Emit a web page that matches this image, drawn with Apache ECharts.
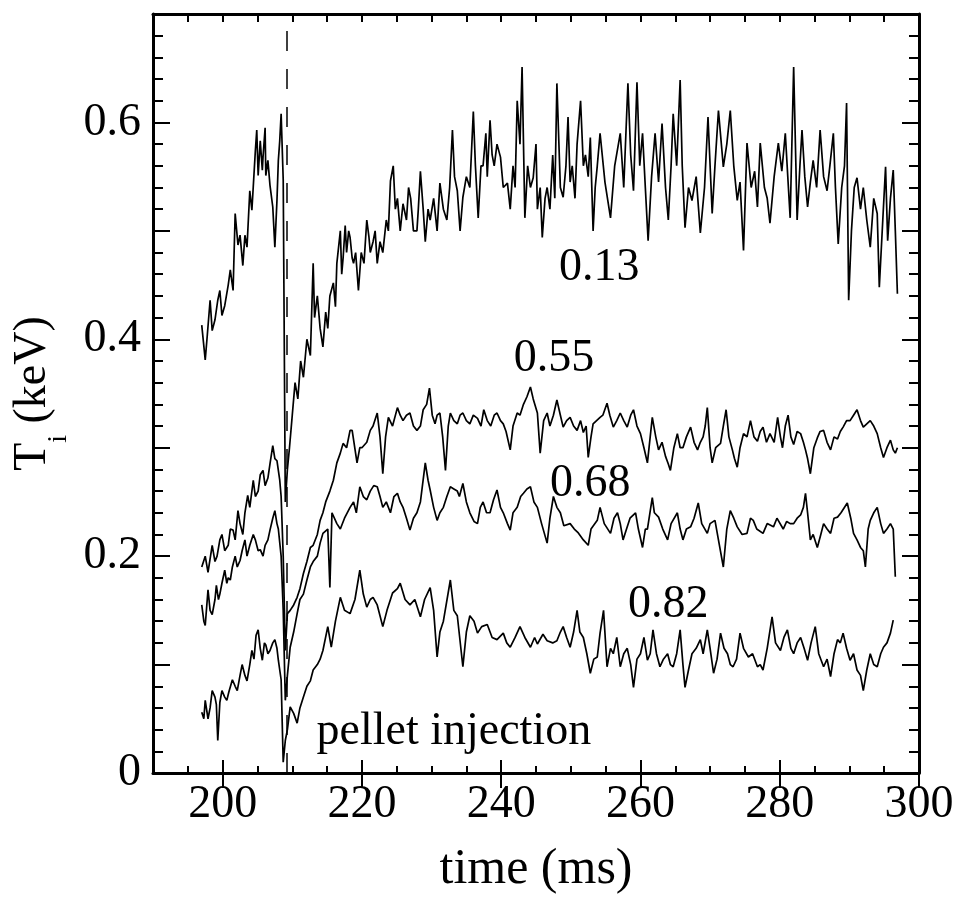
<!DOCTYPE html>
<html>
<head>
<meta charset="utf-8">
<script src="https://cdn.jsdelivr.net/npm/echarts@6/dist/echarts.min.js"></script>
<style>
  html, body { margin: 0; background: #fff; }
  #chart { width: 962px; height: 915px; }
</style>
</head>
<body>
<div id="chart"></div>
<script>
// tick labels for the time axis, one per 5 ms
var xTicks = ['190', '195', '200', '205', '210', '215', '220', '225', '230', '235', '240', '245',
  '250', '255', '260', '265', '270', '275', '280', '285', '290', '295', '300'];

// Ti traces [time ms, keV], labelled by r/a
var ti013 = [
  [197.0, 0.413], [197.5, 0.381], [197.8, 0.404], [198.2, 0.436], [198.5, 0.408], [198.9, 0.418],
  [199.3, 0.436], [199.6, 0.445], [199.9, 0.422], [200.3, 0.431], [200.8, 0.450], [201.1, 0.464],
  [201.5, 0.445], [201.8, 0.516], [202.2, 0.487], [202.5, 0.496], [202.9, 0.468], [203.2, 0.496],
  [203.5, 0.485], [203.9, 0.537], [204.2, 0.519], [204.7, 0.574], [204.9, 0.593], [205.1, 0.551],
  [205.4, 0.583], [205.7, 0.556], [205.8, 0.568], [206.1, 0.595], [206.2, 0.551], [206.5, 0.565],
  [206.8, 0.542], [207.2, 0.522], [207.5, 0.485], [207.8, 0.528], [208.0, 0.565], [208.2, 0.583],
  [208.4, 0.608], [208.7, 0.547], [209.0, 0.250], [209.3, 0.280], [209.6, 0.300], [210.0, 0.330],
  [210.4, 0.360], [210.8, 0.345], [211.2, 0.380], [211.6, 0.365], [212.1, 0.400], [212.6, 0.385],
  [213.0, 0.470], [213.2, 0.420], [213.6, 0.440], [214.0, 0.410], [214.4, 0.393], [214.8, 0.425],
  [215.1, 0.410], [215.4, 0.440], [215.9, 0.452], [216.2, 0.430], [216.4, 0.470], [216.9, 0.500],
  [217.1, 0.460], [217.3, 0.475], [217.6, 0.505], [217.8, 0.480], [218.1, 0.500], [218.3, 0.494],
  [218.6, 0.475], [218.8, 0.470], [219.1, 0.480], [219.5, 0.445], [219.9, 0.480], [220.3, 0.470],
  [220.7, 0.510], [221.0, 0.495], [221.2, 0.480], [221.6, 0.490], [221.9, 0.500], [222.2, 0.470],
  [222.6, 0.490], [223.0, 0.480], [223.5, 0.510], [223.8, 0.500], [224.1, 0.546], [224.5, 0.560],
  [224.8, 0.520], [225.1, 0.530], [225.5, 0.500], [225.9, 0.525], [226.4, 0.510], [226.7, 0.540],
  [227.0, 0.530], [227.4, 0.500], [227.9, 0.500], [228.1, 0.520], [228.4, 0.555], [228.8, 0.520],
  [229.1, 0.490], [229.5, 0.520], [229.8, 0.510], [230.3, 0.530], [230.8, 0.500], [231.2, 0.544],
  [231.7, 0.520], [232.2, 0.510], [232.6, 0.540], [233.0, 0.593], [233.3, 0.550], [233.7, 0.537],
  [234.1, 0.500], [234.5, 0.531], [235.0, 0.550], [235.5, 0.540], [236.0, 0.610], [236.3, 0.560],
  [236.7, 0.512], [237.1, 0.560], [237.4, 0.560], [237.8, 0.590], [238.0, 0.550], [238.4, 0.602],
  [238.7, 0.570], [239.0, 0.560], [239.4, 0.580], [239.9, 0.568], [240.3, 0.540], [240.9, 0.544],
  [241.3, 0.520], [241.7, 0.560], [242.0, 0.540], [242.3, 0.620], [242.7, 0.580], [243.0, 0.651],
  [243.4, 0.512], [243.8, 0.560], [244.2, 0.540], [244.6, 0.549], [245.0, 0.580], [245.2, 0.520],
  [245.6, 0.540], [245.9, 0.494], [246.3, 0.530], [246.6, 0.540], [247.0, 0.520], [247.4, 0.570],
  [247.7, 0.530], [248.0, 0.636], [248.5, 0.540], [248.9, 0.531], [249.3, 0.560], [249.6, 0.605],
  [249.9, 0.545], [250.2, 0.560], [250.6, 0.530], [250.9, 0.580], [251.4, 0.620], [251.8, 0.560],
  [252.1, 0.570], [252.5, 0.550], [252.8, 0.586], [253.2, 0.500], [253.5, 0.540], [253.8, 0.560],
  [254.2, 0.590], [254.9, 0.545], [255.7, 0.512], [256.3, 0.560], [257.1, 0.590], [257.6, 0.540],
  [258.2, 0.636], [258.6, 0.570], [259.0, 0.537], [259.5, 0.637], [259.9, 0.560], [260.3, 0.590],
  [260.7, 0.540], [261.1, 0.491], [261.6, 0.550], [262.1, 0.590], [262.6, 0.545], [263.1, 0.599],
  [263.6, 0.540], [264.0, 0.510], [264.4, 0.560], [264.7, 0.608], [265.2, 0.560], [265.7, 0.639],
  [266.0, 0.560], [266.4, 0.503], [266.9, 0.540], [267.4, 0.528], [268.0, 0.550], [268.6, 0.498],
  [269.2, 0.540], [269.7, 0.605], [270.3, 0.516], [270.7, 0.560], [271.2, 0.611], [271.9, 0.559],
  [272.4, 0.580], [272.9, 0.611], [273.4, 0.560], [273.9, 0.528], [274.3, 0.545], [274.8, 0.482],
  [275.3, 0.581], [275.9, 0.540], [276.4, 0.555], [276.8, 0.522], [277.2, 0.581], [277.8, 0.540],
  [278.2, 0.530], [278.6, 0.507], [279.2, 0.550], [279.8, 0.581], [280.3, 0.555], [280.8, 0.590],
  [281.2, 0.545], [281.5, 0.512], [282.0, 0.651], [282.5, 0.510], [282.9, 0.560], [283.2, 0.593],
  [283.6, 0.550], [284.0, 0.522], [284.4, 0.545], [284.8, 0.565], [285.3, 0.540], [285.8, 0.593],
  [286.3, 0.550], [286.8, 0.537], [287.2, 0.560], [287.7, 0.590], [288.0, 0.540], [288.4, 0.488],
  [288.9, 0.540], [289.3, 0.560], [289.6, 0.618], [289.9, 0.436], [290.3, 0.500], [290.7, 0.540],
  [291.1, 0.549], [291.6, 0.520], [292.0, 0.540], [292.5, 0.510], [293.0, 0.485], [293.5, 0.530],
  [294.0, 0.516], [294.3, 0.448], [294.8, 0.510], [295.2, 0.559], [295.5, 0.491], [295.9, 0.530],
  [296.3, 0.556], [296.6, 0.500], [296.9, 0.442]
];

var ti055 = [
  [197.0, 0.190], [197.5, 0.200], [197.9, 0.185], [198.5, 0.210], [198.9, 0.195], [199.2, 0.200],
  [199.6, 0.215], [199.9, 0.220], [200.3, 0.205], [200.8, 0.210], [201.1, 0.225], [201.5, 0.224],
  [201.8, 0.215], [202.2, 0.242], [202.5, 0.230], [202.9, 0.220], [203.2, 0.240], [203.6, 0.256],
  [203.9, 0.245], [204.4, 0.270], [204.7, 0.255], [205.1, 0.260], [205.4, 0.275], [205.8, 0.279],
  [206.1, 0.265], [206.5, 0.272], [206.8, 0.285], [207.2, 0.302], [207.5, 0.290], [207.8, 0.288],
  [208.2, 0.270], [208.4, 0.255], [208.7, 0.200], [209.0, 0.113], [209.3, 0.147], [209.7, 0.150],
  [210.2, 0.155], [210.7, 0.162], [211.1, 0.170], [211.6, 0.184], [212.1, 0.195], [212.6, 0.208],
  [213.0, 0.210], [213.6, 0.220], [214.0, 0.233], [214.4, 0.240], [214.8, 0.250], [215.4, 0.260],
  [215.9, 0.270], [216.4, 0.286], [216.9, 0.295], [217.3, 0.304], [217.8, 0.300], [218.3, 0.316],
  [218.6, 0.316], [219.3, 0.286], [219.7, 0.300], [220.0, 0.300], [220.7, 0.305], [221.2, 0.316],
  [221.6, 0.320], [222.2, 0.332], [222.6, 0.310], [223.0, 0.276], [223.4, 0.310], [223.8, 0.328],
  [224.4, 0.320], [225.1, 0.337], [225.5, 0.330], [225.9, 0.325], [226.4, 0.330], [226.9, 0.332],
  [227.4, 0.320], [227.9, 0.316], [228.4, 0.320], [228.8, 0.335], [229.3, 0.340], [229.7, 0.355],
  [230.1, 0.330], [230.5, 0.322], [230.8, 0.330], [231.2, 0.332], [231.6, 0.310], [232.0, 0.279],
  [232.4, 0.320], [232.7, 0.332], [233.2, 0.325], [233.7, 0.322], [234.1, 0.330], [234.5, 0.332],
  [235.0, 0.325], [235.5, 0.322], [236.0, 0.330], [236.6, 0.327], [237.1, 0.320], [237.5, 0.335],
  [238.0, 0.325], [238.5, 0.320], [239.0, 0.330], [239.4, 0.332], [239.9, 0.325], [240.3, 0.322],
  [240.7, 0.315], [241.3, 0.298], [241.7, 0.320], [242.3, 0.332], [242.7, 0.330], [243.2, 0.340],
  [243.7, 0.347], [244.2, 0.356], [244.6, 0.345], [245.2, 0.332], [245.6, 0.295], [246.1, 0.325],
  [246.6, 0.332], [247.0, 0.320], [247.5, 0.330], [248.0, 0.344], [248.5, 0.330], [248.9, 0.319],
  [249.4, 0.325], [249.9, 0.328], [250.4, 0.320], [250.9, 0.316], [251.4, 0.325], [251.8, 0.314],
  [252.2, 0.320], [252.5, 0.291], [252.9, 0.310], [253.2, 0.322], [253.7, 0.325], [254.2, 0.328],
  [254.6, 0.330], [255.2, 0.341], [255.6, 0.330], [256.1, 0.319], [256.6, 0.325], [257.1, 0.332],
  [257.6, 0.325], [258.1, 0.319], [258.6, 0.330], [259.0, 0.335], [259.5, 0.320], [260.0, 0.313],
  [260.5, 0.300], [261.0, 0.286], [261.4, 0.310], [261.7, 0.328], [262.2, 0.310], [262.6, 0.298],
  [263.1, 0.305], [263.6, 0.292], [264.0, 0.285], [264.3, 0.279], [264.8, 0.300], [265.3, 0.313],
  [265.7, 0.300], [266.1, 0.300], [266.6, 0.310], [267.2, 0.319], [267.7, 0.305], [268.2, 0.298],
  [268.6, 0.305], [269.0, 0.310], [269.3, 0.320], [269.6, 0.337], [270.0, 0.300], [270.3, 0.286],
  [270.8, 0.300], [271.5, 0.304], [271.9, 0.320], [272.3, 0.335], [272.7, 0.310], [273.2, 0.298],
  [273.5, 0.290], [273.9, 0.282], [274.3, 0.300], [274.8, 0.313], [275.3, 0.310], [275.8, 0.325],
  [276.3, 0.310], [276.8, 0.306], [277.2, 0.315], [277.6, 0.319], [278.1, 0.305], [278.6, 0.313],
  [279.2, 0.305], [279.7, 0.328], [280.1, 0.310], [280.4, 0.300], [280.8, 0.320], [281.2, 0.330],
  [281.6, 0.310], [282.0, 0.303], [282.5, 0.315], [283.0, 0.313], [283.4, 0.305], [283.7, 0.298],
  [284.0, 0.290], [284.4, 0.276], [284.9, 0.300], [285.4, 0.309], [285.8, 0.315], [286.3, 0.316],
  [286.8, 0.305], [287.3, 0.298], [287.8, 0.310], [288.3, 0.308], [288.7, 0.315], [289.1, 0.319],
  [289.6, 0.325], [290.1, 0.325], [290.6, 0.330], [291.1, 0.335], [291.6, 0.325], [292.0, 0.319],
  [292.5, 0.322], [293.0, 0.325], [293.5, 0.320], [294.0, 0.313], [294.5, 0.300], [294.9, 0.291],
  [295.4, 0.300], [295.9, 0.307], [296.3, 0.298], [296.6, 0.295], [296.9, 0.300]
];

var ti068 = [
  [197.0, 0.155], [197.3, 0.140], [197.5, 0.136], [197.9, 0.169], [198.2, 0.150], [198.5, 0.146],
  [198.9, 0.160], [199.1, 0.173], [199.4, 0.160], [199.6, 0.165], [199.9, 0.175], [200.3, 0.187],
  [200.6, 0.175], [200.8, 0.180], [201.1, 0.178], [201.4, 0.190], [201.8, 0.200], [202.1, 0.190],
  [202.5, 0.196], [202.8, 0.205], [203.2, 0.215], [203.5, 0.200], [203.9, 0.210], [204.4, 0.220],
  [204.7, 0.215], [205.1, 0.205], [205.4, 0.206], [205.8, 0.200], [206.1, 0.210], [206.5, 0.215],
  [206.8, 0.224], [207.2, 0.235], [207.5, 0.242], [207.8, 0.230], [208.0, 0.225], [208.4, 0.200],
  [208.7, 0.150], [209.0, 0.067], [209.3, 0.090], [209.7, 0.116], [210.2, 0.130], [210.7, 0.147],
  [211.1, 0.160], [211.6, 0.165], [212.1, 0.178], [212.6, 0.190], [213.0, 0.195], [213.6, 0.200],
  [214.0, 0.212], [214.4, 0.221], [215.1, 0.225], [215.4, 0.171], [215.7, 0.240], [216.4, 0.230],
  [216.9, 0.225], [217.5, 0.235], [218.3, 0.245], [218.8, 0.250], [219.2, 0.240], [219.7, 0.264],
  [220.2, 0.255], [220.7, 0.252], [221.2, 0.260], [221.7, 0.265], [222.2, 0.264], [222.6, 0.255],
  [223.0, 0.245], [223.5, 0.250], [224.1, 0.240], [224.6, 0.255], [225.1, 0.258], [225.5, 0.250],
  [225.9, 0.245], [226.4, 0.235], [226.9, 0.224], [227.4, 0.235], [227.9, 0.240], [228.4, 0.250],
  [229.1, 0.286], [229.5, 0.270], [229.8, 0.261], [230.3, 0.245], [230.8, 0.233], [231.2, 0.240],
  [231.7, 0.245], [232.2, 0.255], [232.7, 0.264], [233.2, 0.262], [233.7, 0.260], [234.0, 0.255],
  [234.5, 0.267], [235.0, 0.250], [235.5, 0.240], [236.1, 0.232], [236.6, 0.230], [237.0, 0.245],
  [237.4, 0.250], [237.9, 0.240], [238.4, 0.240], [238.9, 0.252], [239.4, 0.261], [239.9, 0.245],
  [240.3, 0.240], [240.9, 0.230], [241.3, 0.224], [241.7, 0.240], [242.3, 0.245], [242.8, 0.255],
  [243.2, 0.258], [243.7, 0.262], [244.2, 0.264], [244.7, 0.250], [245.2, 0.245], [245.8, 0.230],
  [246.6, 0.212], [247.0, 0.235], [247.5, 0.255], [248.0, 0.245], [248.5, 0.240], [249.0, 0.228],
  [249.9, 0.230], [250.5, 0.225], [251.0, 0.222], [251.8, 0.215], [252.5, 0.210], [252.9, 0.225],
  [253.8, 0.233], [254.2, 0.245], [254.8, 0.230], [255.7, 0.221], [256.2, 0.235], [256.7, 0.240],
  [257.1, 0.230], [257.5, 0.215], [258.0, 0.225], [258.5, 0.235], [259.3, 0.240], [259.7, 0.225],
  [260.3, 0.208], [260.7, 0.225], [261.0, 0.225], [261.7, 0.254], [262.0, 0.240], [262.6, 0.236],
  [263.2, 0.225], [263.9, 0.215], [264.4, 0.230], [265.3, 0.240], [265.7, 0.225], [266.1, 0.215],
  [266.6, 0.225], [267.2, 0.227], [267.7, 0.235], [268.3, 0.249], [268.8, 0.230], [269.6, 0.221],
  [270.0, 0.230], [270.7, 0.233], [271.2, 0.215], [271.9, 0.190], [272.4, 0.225], [272.9, 0.242],
  [273.4, 0.235], [273.9, 0.227], [274.6, 0.220], [275.3, 0.221], [275.8, 0.235], [276.2, 0.233],
  [276.7, 0.225], [277.6, 0.221], [278.2, 0.230], [279.1, 0.227], [279.6, 0.235], [280.5, 0.225],
  [281.0, 0.232], [281.5, 0.230], [282.0, 0.230], [282.5, 0.235], [283.0, 0.238], [283.4, 0.245],
  [283.7, 0.258], [284.0, 0.240], [284.4, 0.215], [284.8, 0.220], [285.4, 0.208], [285.9, 0.220],
  [286.3, 0.230], [286.8, 0.225], [287.3, 0.221], [287.8, 0.235], [288.3, 0.236], [288.8, 0.240],
  [289.7, 0.249], [290.2, 0.235], [290.6, 0.221], [291.1, 0.215], [291.6, 0.208], [292.0, 0.205],
  [292.3, 0.190], [292.7, 0.225], [293.0, 0.233], [293.5, 0.240], [294.0, 0.245], [294.5, 0.230],
  [294.9, 0.221], [295.4, 0.225], [295.9, 0.230], [296.3, 0.225], [296.6, 0.181]
];

var ti082 = [
  [197.0, 0.056], [197.3, 0.050], [197.5, 0.067], [197.9, 0.050], [198.2, 0.060], [198.5, 0.076],
  [198.9, 0.070], [199.1, 0.063], [199.3, 0.030], [199.6, 0.065], [199.9, 0.076], [200.3, 0.070],
  [200.6, 0.067], [200.9, 0.075], [201.4, 0.086], [201.8, 0.080], [202.1, 0.076], [202.5, 0.090],
  [202.8, 0.100], [203.2, 0.090], [203.5, 0.085], [203.9, 0.100], [204.2, 0.113], [204.5, 0.105],
  [204.8, 0.127], [205.1, 0.132], [205.4, 0.115], [205.7, 0.104], [206.0, 0.120], [206.2, 0.118],
  [206.5, 0.110], [206.8, 0.113], [207.2, 0.120], [207.5, 0.123], [207.8, 0.115], [208.0, 0.104],
  [208.4, 0.086], [208.7, 0.010], [209.0, 0.030], [209.3, 0.040], [209.7, 0.061], [210.2, 0.055],
  [210.7, 0.046], [211.1, 0.060], [211.6, 0.070], [212.1, 0.080], [212.6, 0.085], [213.0, 0.095],
  [213.6, 0.100], [214.0, 0.105], [214.4, 0.113], [215.1, 0.135], [215.6, 0.116], [216.2, 0.140],
  [216.9, 0.162], [217.5, 0.150], [218.3, 0.147], [219.0, 0.160], [219.7, 0.187], [220.2, 0.165],
  [220.7, 0.153], [221.2, 0.160], [221.6, 0.162], [222.2, 0.155], [223.0, 0.135], [223.6, 0.150],
  [224.4, 0.166], [225.1, 0.170], [225.5, 0.175], [226.2, 0.160], [226.9, 0.155], [227.6, 0.160],
  [228.4, 0.144], [229.0, 0.160], [229.8, 0.171], [230.3, 0.150], [230.8, 0.107], [231.2, 0.130],
  [231.7, 0.140], [232.7, 0.178], [233.2, 0.150], [233.7, 0.145], [234.5, 0.098], [235.0, 0.130],
  [235.5, 0.145], [236.1, 0.140], [236.6, 0.129], [237.2, 0.135], [238.0, 0.137], [238.7, 0.125],
  [239.4, 0.123], [240.3, 0.129], [240.8, 0.120], [241.3, 0.116], [242.0, 0.125], [242.7, 0.135],
  [243.4, 0.125], [244.2, 0.116], [244.8, 0.125], [245.2, 0.119], [246.0, 0.128], [246.6, 0.122],
  [247.4, 0.120], [248.0, 0.122], [248.5, 0.130], [248.9, 0.135], [249.4, 0.125], [249.9, 0.116],
  [250.4, 0.130], [250.9, 0.150], [251.3, 0.130], [251.8, 0.125], [252.3, 0.110], [252.8, 0.092],
  [253.3, 0.105], [253.8, 0.107], [254.2, 0.129], [254.7, 0.150], [255.2, 0.098], [255.7, 0.115],
  [256.1, 0.110], [256.6, 0.125], [257.1, 0.098], [257.6, 0.110], [258.1, 0.115], [258.6, 0.100],
  [259.0, 0.079], [259.5, 0.105], [260.0, 0.110], [260.5, 0.125], [261.0, 0.104], [261.4, 0.110],
  [261.8, 0.132], [262.3, 0.110], [262.8, 0.098], [263.3, 0.105], [263.9, 0.110], [264.3, 0.100],
  [264.7, 0.098], [265.2, 0.110], [265.7, 0.132], [266.1, 0.100], [266.4, 0.079], [266.9, 0.095],
  [267.4, 0.110], [268.0, 0.115], [268.6, 0.123], [269.0, 0.110], [269.6, 0.132], [270.0, 0.115],
  [270.5, 0.092], [271.0, 0.105], [271.5, 0.129], [272.0, 0.115], [272.5, 0.110], [272.9, 0.100],
  [273.3, 0.098], [273.8, 0.105], [274.3, 0.129], [274.8, 0.115], [275.5, 0.107], [276.1, 0.110],
  [276.8, 0.098], [277.2, 0.100], [277.6, 0.095], [278.2, 0.115], [278.9, 0.144], [279.4, 0.120],
  [280.1, 0.113], [280.6, 0.125], [281.1, 0.132], [281.6, 0.115], [282.0, 0.110], [282.5, 0.120],
  [283.0, 0.125], [283.5, 0.115], [284.0, 0.104], [284.5, 0.120], [285.1, 0.135], [285.6, 0.110],
  [286.3, 0.098], [286.8, 0.105], [287.3, 0.089], [287.8, 0.110], [288.3, 0.123], [288.7, 0.120],
  [289.1, 0.129], [289.6, 0.115], [290.1, 0.104], [290.6, 0.110], [291.1, 0.095], [291.6, 0.090],
  [292.0, 0.076], [292.5, 0.095], [293.0, 0.110], [293.5, 0.100], [294.0, 0.098], [294.5, 0.110],
  [294.9, 0.116], [295.4, 0.120], [295.9, 0.129], [296.3, 0.141]
];

var traceNames = ['0.13', '0.55', '0.68', '0.82'];
var traces = [ti013, ti055, ti068, ti082];

// annotation texts with their place in data units [text, time, keV]
var notes = [
  ['0.13', 254.1, 0.466],
  ['0.55', 247.6, 0.382],
  ['0.68', 252.8, 0.267],
  ['0.82', 264.0, 0.155],
  ['pellet injection', 233.2, 0.038]
];
var pelletTime = 209.2;

var serif = '"Liberation Serif", "DejaVu Serif", serif';
var black = '#000';

var chart = echarts.init(document.getElementById('chart'), null, { renderer: 'canvas' });

function majorTick(i) {
  return i % 4 === 2;
}

function yLabel(v) {
  var k = Math.round(v * 10);
  if (k % 2 !== 0) return '';
  return k === 0 ? '0' : (k / 10).toFixed(1);
}

var lineAxis = { show: true, onZero: false, lineStyle: { color: black, width: 3 } };

var series = traces.map(function (d, i) {
  return {
    name: traceNames[i],
    type: 'line',
    data: d,
    showSymbol: false,
    symbol: 'none',
    lineStyle: { color: black, width: 1.7 },
    animation: false,
    z: 3
  };
});

series.push({
  name: 'notes',
  type: 'line',
  data: [],
  markPoint: {
    symbol: 'circle',
    symbolSize: 0,
    silent: true,
    animation: false,
    data: notes.map(function (n) {
      return {
        coord: [n[1], n[2]],
        label: {
          show: true,
          position: 'inside',
          formatter: n[0],
          color: black,
          fontFamily: serif,
          fontSize: 46
        }
      };
    })
  },
  markLine: {
    silent: true,
    symbol: 'none',
    animation: false,
    label: { show: false },
    lineStyle: { color: black, width: 1.5, type: [20, 18] },
    data: [{ xAxis: pelletTime }]
  }
});

var option = {
  backgroundColor: '#fff',
  animation: false,
  grid: { left: 153, right: 43, top: 14, bottom: 142 },
  xAxis: [
    {
      type: 'value', min: 190, max: 300, interval: 5, position: 'bottom',
      axisLine: lineAxis,
      axisTick: { show: true, inside: true, length: 7, lineStyle: { color: black, width: 2 } },
      axisLabel: { show: false },
      splitLine: { show: false },
      name: 'time (ms)', nameLocation: 'middle', nameGap: 72,
      nameTextStyle: { color: black, fontFamily: serif, fontSize: 50 }
    },
    {
      type: 'category', data: xTicks, boundaryGap: false, position: 'bottom',
      axisLine: { show: false },
      axisTick: { show: true, inside: true, length: 13, interval: majorTick, lineStyle: { color: black, width: 2 } },
      axisLabel: { show: true, interval: majorTick, margin: 9, color: black, fontFamily: serif, fontSize: 46 },
      splitLine: { show: false }
    },
    {
      type: 'value', min: 190, max: 300, interval: 5, position: 'top',
      axisLine: lineAxis,
      axisTick: { show: true, inside: true, length: 8, lineStyle: { color: black, width: 2 } },
      axisLabel: { show: false },
      splitLine: { show: false }
    },
    {
      type: 'category', data: xTicks, boundaryGap: false, position: 'top',
      axisLine: { show: false },
      axisTick: { show: true, inside: true, length: 15, interval: majorTick, lineStyle: { color: black, width: 2 } },
      axisLabel: { show: false },
      splitLine: { show: false }
    }
  ],
  yAxis: [
    {
      type: 'value', min: 0, max: 0.7, interval: 0.1, position: 'left',
      axisLine: lineAxis,
      axisTick: { show: true, inside: true, length: 17, lineStyle: { color: black, width: 2 } },
      minorTick: { show: true, splitNumber: 5, length: 10, lineStyle: { color: black, width: 2 } },
      axisLabel: { show: true, formatter: yLabel, margin: 12, color: black, fontFamily: serif, fontSize: 46 },
      splitLine: { show: false },
      name: '{a|T}{b|i}{a| (keV)}', nameLocation: 'middle', nameGap: 82,
      nameTextStyle: {
        color: black, fontFamily: serif, fontSize: 46,
        rich: {
          a: { color: black, fontFamily: serif, fontSize: 46, lineHeight: 46, verticalAlign: 'top' },
          b: { color: black, fontFamily: serif, fontSize: 28, lineHeight: 28, verticalAlign: 'top', padding: [35, 0, 0, 0] }
        }
      }
    },
    {
      type: 'value', min: 0, max: 0.7, interval: 0.1, position: 'right',
      axisLine: lineAxis,
      axisTick: { show: true, inside: true, length: 17, lineStyle: { color: black, width: 2 } },
      minorTick: { show: true, splitNumber: 5, length: 10, lineStyle: { color: black, width: 2 } },
      axisLabel: { show: false },
      splitLine: { show: false }
    }
  ],
  series: series
};

chart.setOption(option);
</script>
</body>
</html>
